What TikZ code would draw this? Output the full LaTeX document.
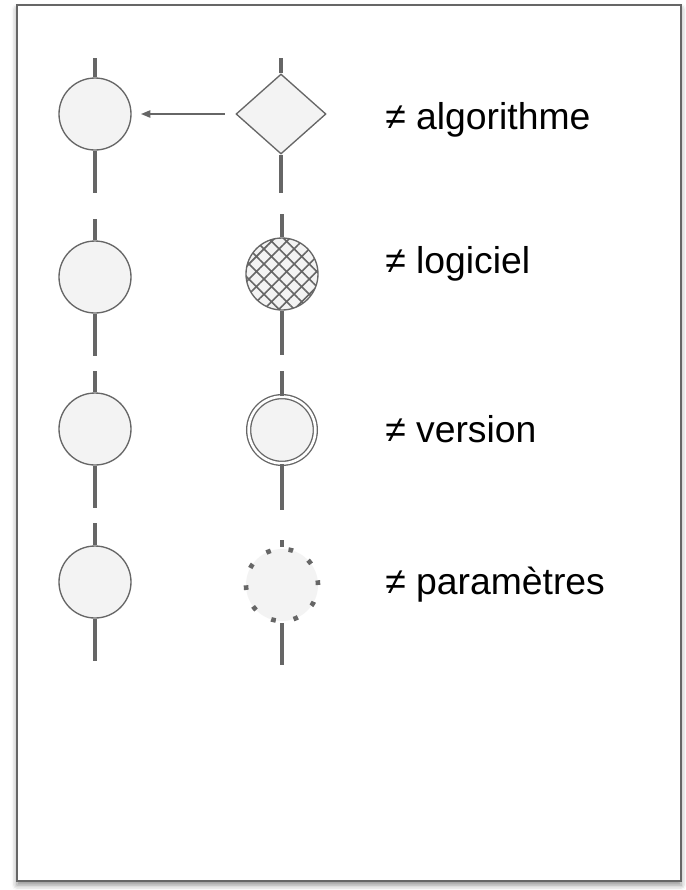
\documentclass[tikz,border=0pt]{standalone}
\usepackage{fontspec}
\setmainfont{Liberation Sans}
\usetikzlibrary{arrows.meta,positioning,shapes.geometric,shadows.blur,patterns.meta}
\definecolor{ddGrey}{HTML}{666666}
\definecolor{ddLight}{HTML}{F3F3F3}
\tikzset{
  >={Triangle[length=7pt,width=5.5pt]},
  frame/.style={draw=ddGrey, line width=1.5pt, fill=white,
              blur shadow={shadow xshift=0pt, shadow yshift=-3pt,
              shadow blur radius=4pt, shadow opacity=45}},
  act/.style={circle, draw=ddGrey, fill=ddLight, line width=1pt,
              minimum size=54pt, inner sep=0pt},
  choice/.style={diamond, draw=ddGrey, fill=ddLight, line width=1pt,
              minimum width=67.5pt, minimum height=60pt, inner sep=0pt},
  hatched/.style={act, preaction={fill=ddLight},
              pattern={Hatch[angle=45,distance=8pt,line width=1.2pt]},
              pattern color=ddGrey},
  twice/.style={act, minimum size=50pt, double=white, double distance=2pt},
  fuzzy/.style={circle, fill=ddLight, draw=ddGrey, line width=3.5pt,
              dash pattern=on 3.5pt off 13.5pt, minimum size=54pt, inner sep=0pt},
  stem/.style={draw=ddGrey, line width=2.5pt},
  link/.style={->, draw=ddGrey, line width=1.1pt},
  lbl/.style={font=\fontsize{28}{32}\selectfont, anchor=base west, inner sep=0pt},
}

\begin{document}
\begin{tikzpicture}[x=0.75pt,y=-0.75pt]
        \useasboundingbox (0,0) rectangle (686,890);
        \draw[frame] (17,5) rectangle (681,881);
        \node[act] (a1) at (95,114){};
        \node[act] (a2) at (95,277){};
        \node[act] (a3) at (95,429){};
        \node[act] (a4) at (95,582){};
        \node[choice] (b1) at (281,114){};
        \node[hatched] (b2) at (282,274){};
        \node[twice] (b3) at (282,430){};
        \node[fuzzy] (b4) at (282,585){};
        \foreach \n/\t/\b in {a1/58/193,a2/219/356,a3/371/508,a4/523/661,
                              b1/58/193,b2/214/355,b3/371/510,b4/540/665}{
          \draw[stem] (\n.north) -- (\n.north |- 0,\t);
          \draw[stem] (\n.south) -- (\n.south |- 0,\b);
        }
        \draw[link,shorten <=8pt,shorten >=7pt] (b1.west) -- (a1.east);
        \node[lbl] (t1) at (385,129){≠ algorithme};
        \node[lbl] (t2) at (385,273){≠ logiciel};
        \node[lbl] (t3) at (385,442){≠ version};
        \node[lbl] (t4) at (385,594){≠ paramètres};
      \end{tikzpicture}
\end{document}
